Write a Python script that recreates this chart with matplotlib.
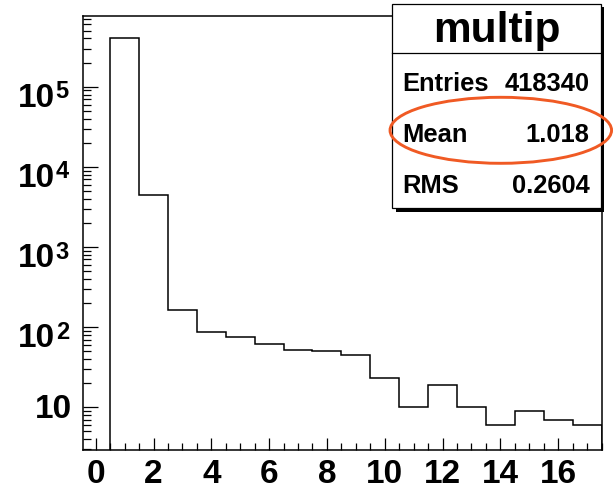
import matplotlib
matplotlib.use("Agg")
import matplotlib.pyplot as plt
import matplotlib.transforms as mtransforms
from matplotlib.patches import Rectangle, Ellipse
from matplotlib.ticker import MultipleLocator, LogLocator, NullFormatter
import numpy as np

# ---- data ----
bin_edges = np.arange(0.5, 18.5, 1.0)          # 0.5 .. 17.5
counts = [402000, 4450, 164, 86, 76, 61, 52, 50, 45, 23, 10, 19, 10, 6, 9, 7, 6]
xtick_values = [0, 2, 4, 6, 8, 10, 12, 14, 16]
xtick_labels = ["0", "2", "4", "6", "8", "10", "12", "14", "16"]
ydecades = [1, 2, 3, 4, 5]
hist_title = "multip"
stat_names = ["Entries", "Mean", "RMS"]
stat_values = ["418340", "1.018", "0.2604"]

W, H = 615, 490
fig = plt.figure(figsize=(W / 100, H / 100), dpi=100)
fig.patch.set_facecolor("white")

FONT = ["Liberation Sans", "DejaVu Sans"]

# axes placement in pixels
axL, axR, axT, axB = 82.7, 601.5, 15.7, 450.0
ax = fig.add_axes([axL / W, 1 - axB / H, (axR - axL) / W, (axB - axT) / H])

ax.stairs(counts, bin_edges, baseline=1e-3, color="black", linewidth=1.1)
ax.set_yscale("log")
ax.set_xlim(-0.45, 17.5)
ax.set_ylim(2.93, 7.7e5)

for s in ax.spines.values():
    s.set_linewidth(1.1)

ax.xaxis.set_major_locator(MultipleLocator(2))
ax.xaxis.set_minor_locator(MultipleLocator(0.5))
ax.set_xticks(xtick_values)
ax.set_xticklabels(xtick_labels, fontfamily=FONT, fontweight="bold", fontsize=24)
ax.tick_params(axis="x", which="major", direction="in", length=8.6, width=0.9, pad=6.5)
ax.tick_params(axis="x", which="minor", direction="in", length=5.0, width=0.9)

ax.yaxis.set_major_locator(LogLocator(base=10, numticks=20))
ax.yaxis.set_minor_locator(LogLocator(base=10, subs=np.arange(2, 10), numticks=20))
ax.yaxis.set_major_formatter(NullFormatter())
ax.yaxis.set_minor_formatter(NullFormatter())
ax.tick_params(axis="y", which="major", direction="in", length=10.8, width=0.9)
ax.tick_params(axis="y", which="minor", direction="in", length=5.8, width=0.9)

# y tick labels 10^n drawn at their data positions
blend = mtransforms.blended_transform_factory(ax.transAxes, ax.transData)
def off(dx_px, dy_px):
    return blend + mtransforms.ScaledTranslation(dx_px / 100, -dy_px / 100, fig.dpi_scale_trans)

for n in ydecades:
    yv = 10.0 ** n
    if n == 1:
        ax.text(0, yv, "10", transform=off(-11, 11), ha="right", va="baseline",
                fontfamily=FONT, fontweight="bold", fontsize=24, clip_on=False)
    else:
        ax.text(0, yv, "10", transform=off(-28, 20), ha="right", va="baseline",
                fontfamily=FONT, fontweight="bold", fontsize=24, clip_on=False)
        ax.text(0, yv, str(n), transform=off(-27, 11.5), ha="left", va="baseline",
                fontfamily=FONT, fontweight="bold", fontsize=17, clip_on=False)

# ---- stats box in image-pixel coordinates ----
px = mtransforms.Affine2D().scale(1 / W, -1 / H).translate(0, 1) + fig.transFigure

bx0, bx1, by0, by1 = 392.3, 600.5, 4.0, 208.0
sh = 3.5
fig.add_artist(Rectangle((bx0 + sh, by0 + sh), bx1 - bx0, by1 - by0, transform=px,
                         facecolor="black", edgecolor="black", linewidth=0, zorder=5))
fig.add_artist(Rectangle((bx0, by0), bx1 - bx0, by1 - by0, transform=px,
                         facecolor="white", edgecolor="black", linewidth=0.9, zorder=6))
fig.add_artist(plt.Line2D([bx0, bx1], [53.3, 53.3], transform=px, color="black", linewidth=0.9, zorder=7))

fig.text(496.5, 41.7, hist_title, transform=px, ha="center", va="baseline",
         fontfamily=FONT, fontweight="bold", fontsize=30.5, zorder=8)

row_baselines = [90.7, 141.7, 193.3]
for name, val, yb in zip(stat_names, stat_values, row_baselines):
    fig.text(402.7, yb, name, transform=px, ha="left", va="baseline",
             fontfamily=FONT, fontweight="bold", fontsize=18.4, zorder=8)
    fig.text(589.3, yb, val, transform=px, ha="right", va="baseline",
             fontfamily=FONT, fontweight="bold", fontsize=18.4, zorder=8)

fig.add_artist(Ellipse((500.8, 130.3), 221.5, 66, transform=px, facecolor="none",
                       edgecolor="#F05A24", linewidth=2.1, zorder=9))

fig.savefig("out.png", dpi=100)
